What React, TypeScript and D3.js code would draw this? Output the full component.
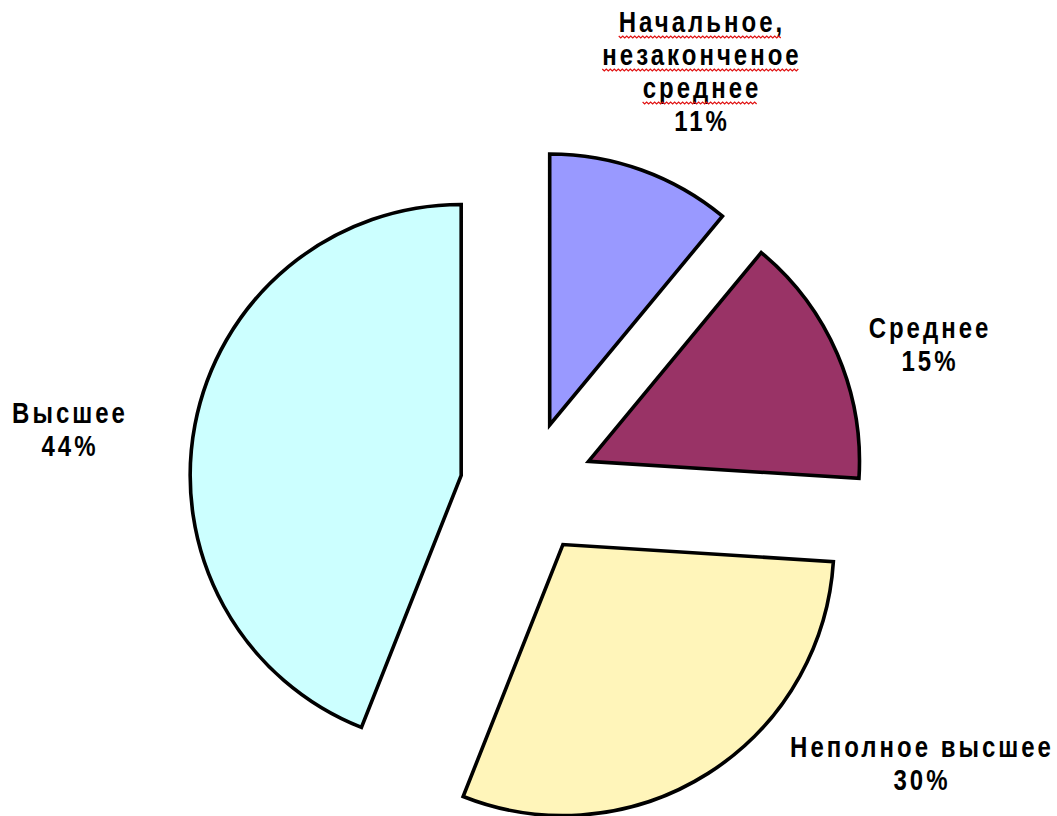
import React, { useEffect, useRef } from 'react';
import * as d3 from 'd3';

// Chart data (percent shares)
const categories = ['Начальное, незаконченое среднее', 'Среднее', 'Неполное высшее', 'Высшее'];
const values = [11, 15, 30, 44];
const colors = ['#9999FF', '#993366', '#FFF5BA', '#CCFFFF'];
// label text lines per slice (the percent line is added from values)
const labelLines = [['Начальное,', 'незаконченое', 'среднее'], ['Среднее'], ['Неполное высшее'], ['Высшее']];
// slices whose words are underlined by the spell checker
const spellMarked = [true, false, false, false];

// layout for labels (centre x, first baseline y) - positions chosen by Excel
const labelLayout = [
  { x: 702, y: 32 },
  { x: 930, y: 338 },
  { x: 922, y: 757 },
  { x: 70, y: 423 },
];

const App = () => {
  const ref = useRef<SVGSVGElement>(null);

  useEffect(() => {
    const width = 1057;
    const height = 816;
    const cx = 527;
    const cy = 488;
    const radius = 271;
    const explode = 67;

    const svg = d3.select(ref.current).attr('width', width).attr('height', height);
    svg.selectAll('*').remove();

    const pie = d3
      .pie<number>()
      .sort(null)
      .value((d) => d);
    const arcs = pie(values);
    const arc = d3.arc<d3.PieArcDatum<number>>().innerRadius(0).outerRadius(radius);

    const g = svg.append('g').attr('transform', `translate(${cx},${cy})`);

    // exploded slices
    g.selectAll('path.slice')
      .data(arcs)
      .enter()
      .append('path')
      .attr('class', 'slice')
      .attr('transform', (d) => {
        const mid = (d.startAngle + d.endAngle) / 2;
        return `translate(${explode * Math.sin(mid)},${-explode * Math.cos(mid)})`;
      })
      .attr('d', arc)
      .attr('fill', (d, i) => colors[i])
      .attr('stroke', '#000')
      .attr('stroke-width', 3.6)
      .attr('stroke-linejoin', 'miter');

    // labels (text is a bit taller than wide in the original)
    const lineHeight = 33;
    arcs.forEach((d, i) => {
      const lines = [...labelLines[i], `${values[i]}%`];
      const pos = labelLayout[i];
      lines.forEach((line, j) => {
        const baseline = pos.y + j * lineHeight;
        const t = svg
          .append('text')
          .attr('transform', `translate(${pos.x},${baseline}) scale(1,1.2)`)
          .attr('text-anchor', 'middle')
          .style('font-family', '"Liberation Sans", Arial, sans-serif')
          .style('font-weight', 'bold')
          .style('font-size', '24px')
          .style('letter-spacing', '3px')
          .style('fill', '#000')
          .text(line);

        // red wavy spell-check underline
        if (spellMarked[i] && j < lines.length - 1) {
          const bb = (t.node() as SVGTextElement).getBBox();
          const x0 = pos.x + bb.x;
          const x1 = x0 + bb.width - 3;
          const yLine = baseline + 4;
          const pts: [number, number][] = [];
          for (let x = x0, k = 0; x <= x1; x += 2, k++) {
            pts.push([x, yLine + (k % 2 === 0 ? 0 : 2)]);
          }
          svg
            .append('path')
            .attr('d', d3.line()(pts))
            .attr('fill', 'none')
            .attr('stroke', '#e01010')
            .attr('stroke-width', 1.2);
        }
      });
    });
  }, []);

  return <svg ref={ref} style={{ position: 'absolute', left: 0, top: 0, background: '#fff' }}></svg>;
};

export default App;
